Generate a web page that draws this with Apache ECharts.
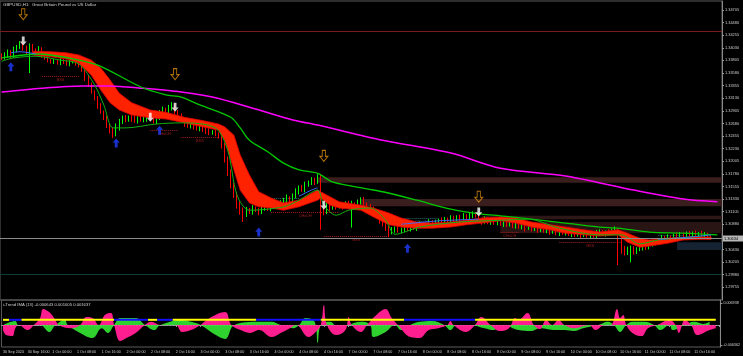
<!DOCTYPE html>
<html><head><meta charset="utf-8">
<script src="https://cdn.jsdelivr.net/npm/echarts@6/dist/echarts.min.js"></script>
<style>html,body{margin:0;padding:0;background:#000;}#c{width:743px;height:356px;}</style>
</head><body><div id="c"></div>
<script>
const timeLabels = ['30 Sep 2024','30 Sep 16:00','1 Oct 00:00','1 Oct 08:00','1 Oct 16:00','2 Oct 00:00','2 Oct 08:00','2 Oct 16:00','3 Oct 00:00','3 Oct 08:00','3 Oct 16:00','4 Oct 00:00','4 Oct 08:00','4 Oct 16:00','7 Oct 00:00','7 Oct 08:00','7 Oct 16:00','8 Oct 00:00','8 Oct 08:00','8 Oct 16:00','9 Oct 00:00','9 Oct 08:00','9 Oct 16:00','10 Oct 00:00','10 Oct 08:00','10 Oct 16:00','11 Oct 00:00','11 Oct 08:00','11 Oct 16:00'];
const barsPerLabel = 8;
const slotCount = 233;
const priceTicks = [1.34705,1.34480,1.34255,1.34030,1.33805,1.33580,1.33355,1.33130,1.32905,1.32680,1.32455,1.32230,1.32005,1.31780,1.31555,1.31330,1.31105,1.30880,1.30430,1.30205,1.29980,1.29755];
const subTicks = [0.006938, -0.006362];

const firstOpen = 1.3390;
const closes = [
1.3385,1.3390,1.3396,1.3388,1.3399,1.3404,1.3410,1.3403,1.3396,1.3406,
1.3399,1.3394,1.3401,1.3390,1.3385,1.3381,1.3378,1.3379,1.3376,1.3381,
1.3378,1.3374,1.3378,1.3379,1.3376,1.3372,1.3363,1.3349,1.3337,1.3324,
1.3313,1.3299,1.3288,1.3278,1.3265,1.3256,1.3249,1.3260,1.3270,1.3278,
1.3274,1.3279,1.3276,1.3272,1.3278,1.3274,1.3276,1.3279,1.3276,1.3272,
1.3278,1.3287,1.3292,1.3288,1.3296,1.3299,1.3288,1.3281,1.3274,1.3267,
1.3263,1.3267,1.3262,1.3258,1.3260,1.3256,1.3254,1.3251,1.3253,1.3249,
1.3245,1.3229,1.3203,1.3181,1.3158,1.3140,1.3122,1.3113,1.3106,1.3113,
1.3110,1.3117,1.3113,1.3110,1.3117,1.3119,1.3115,1.3120,1.3122,1.3119,
1.3126,1.3131,1.3135,1.3131,1.3138,1.3146,1.3153,1.3149,1.3158,1.3162,
1.3167,1.3163,1.3171,1.3113,1.3110,1.3122,1.3117,1.3124,1.3120,1.3122,
1.3119,1.3126,1.3122,1.3124,1.3120,1.3128,1.3131,1.3124,1.3120,1.3117,
1.3110,1.3103,1.3095,1.3088,1.3081,1.3074,1.3078,1.3081,1.3076,1.3079,
1.3083,1.3079,1.3085,1.3081,1.3085,1.3087,1.3088,1.3085,1.3092,1.3088,
1.3092,1.3095,1.3092,1.3097,1.3094,1.3099,1.3095,1.3101,1.3097,1.3103,
1.3099,1.3104,1.3106,1.3103,1.3095,1.3092,1.3097,1.3092,1.3095,1.3090,
1.3094,1.3088,1.3092,1.3087,1.3090,1.3085,1.3088,1.3083,1.3087,1.3081,
1.3085,1.3079,1.3083,1.3078,1.3081,1.3076,1.3079,1.3074,1.3078,1.3072,
1.3076,1.3072,1.3074,1.3070,1.3074,1.3069,1.3072,1.3069,1.3072,1.3067,
1.3070,1.3067,1.3072,1.3074,1.3070,1.3074,1.3072,1.3076,1.3078,1.3063,
1.3045,1.3038,1.3042,1.3045,1.3040,1.3044,1.3047,1.3051,1.3047,1.3053,
1.3056,1.3054,1.3060,1.3063,1.3060,1.3065,1.3061,1.3067,1.3063,1.3069,
1.3065,1.3070,1.3067,1.3072,1.3069,1.3070,1.3067,1.3069,1.3065,1.30634];
const upWickPips = [
3,5,4,3,6,4,5,3,4,5, 4,3,5,3,4,3,2,4,3,5, 3,4,3,4,3,2,4,3,5,4, 3,4,5,3,4,3,5,8,6,4,
5,3,4,6,3,4,5,3,4,3, 4,5,6,4,5,7,3,4,5,3, 4,3,5,3,4,3,4,5,3,4, 3,5,4,6,5,4,6,7,5,6,
4,5,3,4,6,3,4,5,3,4, 5,4,6,3,5,6,4,5,6,4, 5,4,6,5,8,6,4,5,3,4, 5,3,4,6,3,4,5,6,3,4,
3,4,3,4,3,4,5,3,4,3, 4,3,5,3,4,6,3,4,5,3, 4,3,5,4,3,5,4,3,4,5, 3,4,5,3,4,3,5,4,3,4,
3,4,3,5,4,3,4,3,5,3, 4,3,5,3,4,3,4,5,3,4, 3,4,3,5,3,4,3,4,3,5, 3,4,6,5,4,3,5,4,6,3,
5,4,6,5,4,3,5,4,6,5, 4,5,3,6,4,5,3,4,6,5, 4,5,6,3,5,4,6,5,4,3];
const dnWickPips = [
4,3,5,4,3,4,3,5,4,38, 3,4,3,5,3,4,3,4,3,4, 4,3,4,3,5,4,3,5,4,3, 4,5,3,4,5,6,7,4,5,3,
4,3,5,3,4,3,4,5,3,4, 5,4,3,4,3,5,4,3,4,5, 3,4,5,3,4,3,5,4,3,4, 4,6,5,7,6,5,6,8,14,5,
4,5,3,6,4,5,3,4,5,3, 4,3,5,4,3,4,5,3,4,3, 4,5,3,35,6,4,5,3,6,4, 5,3,4,40,3,4,5,3,4,5,
4,5,6,4,5,9,4,5,3,4, 5,3,4,3,5,4,3,5,4,3, 4,5,3,4,3,4,5,3,4,3, 4,3,5,3,4,5,3,4,5,3,
4,3,5,4,3,4,5,3,4,6, 3,4,3,5,4,3,4,5,3,4, 5,3,4,3,5,4,3,6,4,3, 4,3,5,4,3,4,5,3,4,48,
10,6,5,22,6,5,4,6,5,4, 5,4,3,5,4,3,5,4,3,4, 5,3,4,5,3,4,5,3,4,3];

const magentaIdx = [0,13,26,35,45,58,68,80,94,102,123,145,161,182,204,220,231];
const magentaVal = [1.3324,1.3331,1.3335,1.3335,1.3331,1.3324,1.3315,1.3297,1.3274,1.3265,1.3238,1.3215,1.3188,1.3174,1.3149,1.3133,1.3128];
const greenIdx = [0,12,25,32,45,53,58,64,74,77,80,86,91,96,102,107,118,123,134,145,155,161,171,182,193,199,209,220,231];
const greenVal = [1.3385,1.3392,1.3381,1.3370,1.3333,1.3319,1.3315,1.3301,1.3279,1.3260,1.3238,1.3217,1.3197,1.3185,1.3179,1.3163,1.3151,1.3146,1.3131,1.3115,1.3106,1.3103,1.3097,1.3090,1.3083,1.3081,1.3074,1.3072,1.3069];
const signalIdx = [0,4,11,19,25,30,33,36,40,50,58,69,73,76,80,91,96,102,104,108,112,119,124,127,135,148,161,170,180,193,200,206,212,222,229];
const signalVal = [1.3379,1.3385,1.3388,1.3381,1.3374,1.3337,1.3301,1.3260,1.3260,1.3267,1.3269,1.3260,1.3220,1.3140,1.3113,1.3119,1.3131,1.3149,1.3122,1.3104,1.3113,1.3117,1.3095,1.3070,1.3083,1.3092,1.3095,1.3097,1.3081,1.3069,1.3069,1.3053,1.3060,1.3065,1.3069];
const blueIdx = [[3,6,11],[96,100,102],[129,141,154],[212,222,229]];
const blueVal = [[1.3394,1.3396,1.3392],[1.3138,1.3149,1.3153],[1.3088,1.3094,1.3097],[1.3061,1.3065,1.3069]];
const ribIdx = [10,16,21,25,29,32,35,38,42,48,53,59,64,70,72,75,77,80,83,87,91,96,102,103,106,109,116,120,125,129,134,139,145,150,155,161,166,171,177,182,188,193,199,202,206,209,215,220,225,229];
const ribHi = [1.3397,1.3396,1.3394,1.3390,1.3381,1.3367,1.3346,1.3322,1.3305,1.3292,1.3288,1.3279,1.3274,1.3267,1.3262,1.3247,1.3212,1.3176,1.3146,1.3135,1.3126,1.3131,1.3149,1.3146,1.3137,1.3128,1.3122,1.3117,1.3108,1.3099,1.3092,1.3090,1.3092,1.3095,1.3099,1.3101,1.3099,1.3092,1.3087,1.3083,1.3078,1.3074,1.3078,1.3072,1.3063,1.3060,1.3063,1.3065,1.3065,1.3065];
const ribLo = [1.3390,1.3387,1.3383,1.3376,1.3354,1.3328,1.3305,1.3292,1.3283,1.3278,1.3276,1.3269,1.3263,1.3256,1.3238,1.3185,1.3149,1.3126,1.3119,1.3117,1.3113,1.3119,1.3131,1.3135,1.3122,1.3117,1.3113,1.3101,1.3087,1.3083,1.3081,1.3081,1.3083,1.3087,1.3090,1.3094,1.3090,1.3083,1.3078,1.3072,1.3069,1.3067,1.3069,1.3056,1.3047,1.3049,1.3054,1.3060,1.3061,1.3061];

const whiteDownIdx = [7,48,56,104,154];
const whiteDownVal = [1.3415,1.3279,1.3297,1.3122,1.3110];
const orangeDownIdx = [7,56,104,154];
const orangeDownVal = [1.3463,1.3356,1.3210,1.3137];
const blueUpIdx = [3,37,51,83,131];
const blueUpVal = [1.3369,1.3233,1.3256,1.3074,1.3045];

const hLinePrice = [1.3433, 1.2999];
const hLineColor = ['#7a1c1c', '#0f3c37'];
const zoneFrom = [102,116,155,161,218];
const zoneTop = [1.3172,1.3133,1.3103,1.3092,1.3056];
const zoneBot = [1.3162,1.3120,1.3097,1.3072,1.3042];
const zoneColor = ['#3a1e1e','#3a1e1e','#2e1717','#2a1515','#152232'];
const lvFrom = [13,48,58,87,104,161,180];
const lvTo = [25,57,70,109,125,167,200];
const lvPrice = [1.3353,1.3256,1.3244,1.3110,1.3067,1.3074,1.3056];
const lvText = ['BSS','CHoCH','BSS','CHoCH','BSS','CHoCH','BSS'];
const tealFrom = [84,130,212];
const tealTo = [96,141,220];
const tealPrice = [1.3135,1.3099,1.3069];
const tealText = ['CHoCH','CHoCH','CHoCH'];

const pinkIdx = [0,1,3,4,5,8,10,12,13,15,17,18,22,25,27,29,31,33,35,36,38,40,43,46,48,51,56,58,61,64,67,72,74,77,80,83,87,90,93,95,99,101,103,104,105,108,111,112,113,116,118,121,124,126,128,132,135,138,141,144,145,146,150,153,155,158,161,164,166,167,170,172,174,176,178,180,182,185,190,192,195,197,199,200,201,202,204,207,209,212,216,218,219,221,223,225,229,231];
const pinkVal = [-0.0016,-0.0032,-0.0035,-0.001,0,-0.0016,0,0.0022,0.0051,0.0041,0.0016,0,-0.001,0,0.0025,0.0022,0,0.0032,0.0038,0,-0.0051,-0.0041,-0.0025,0,0.001,0,0,-0.0022,-0.0016,0,0.0022,0.0041,0,-0.0016,-0.0025,-0.0016,-0.0038,-0.0025,-0.001,0,-0.0038,-0.0025,0,0.0063,0,-0.0032,-0.0016,0.0025,0,-0.0022,0,0.0032,0.0051,0.0022,0,-0.0038,-0.0041,-0.0016,-0.001,0,0.0013,0,-0.0022,0,0.0025,0,-0.0019,-0.001,0.0022,0.0016,0.0038,0,-0.0013,0.0016,0,0.0016,0,-0.001,0,-0.0016,0,0,0.0051,0.0022,0.0032,0,-0.0025,-0.0035,-0.001,0,0.0016,0,-0.0025,0.0016,0,-0.0032,-0.0016,-0.001];
const grnIdx = [0,4,5,12,15,17,20,21,25,29,32,34,36,38,43,46,49,51,58,61,64,69,72,75,83,87,90,94,96,98,101,102,103,106,109,112,116,119,120,124,127,129,132,135,139,143,145,147,151,156,159,162,167,171,174,179,182,185,188,193,196,198,200,202,204,208,211,213,216,217,221,224,227,229];
const grnVal = [0,0.0013,0,0,-0.0022,0,0.0016,0,-0.0025,-0.0041,-0.001,-0.0025,0,0.0022,0.0022,0,-0.0016,0,0.0016,0.001,0,-0.0032,-0.0044,0,0.001,0.001,0,-0.001,0,0.0022,0.001,-0.0057,0,0.001,-0.0016,0,0.001,0,-0.0038,-0.0022,0,-0.0016,0,0.001,0.0013,0,-0.0016,0,0,-0.001,-0.0016,0,-0.0016,-0.0019,-0.001,-0.0016,-0.0016,-0.0019,-0.001,0,0.001,0,-0.0022,0,0.001,0.001,0,-0.0016,0,-0.0016,0,0.001,0.0003,0.001];
const trendLevel = 0.001637;
const stateFrom = [0,2,6,36,47,50,55,82,103,130,153];
const stateTo = [2,6,36,47,50,55,82,103,130,153,231];
const stateUp = [1,0,1,0,1,0,1,0,1,0,1];

const cats = Array.from({length: slotCount}, (_, i) => String(i));
const candleData = closes.map((c, i) => {
  const o = i === 0 ? firstOpen : closes[i - 1];
  return [o, c, Math.min(o, c) - dnWickPips[i] * 1e-4, Math.max(o, c) + upWickPips[i] * 1e-4];
});
const pairs = (ix, vs) => ix.map((x, k) => [x, vs[k]]);
const lastClose = closes[closes.length - 1];
const FONT = 'Liberation Sans';
const AX = '#d0d0d0';

const lineS = (ix, vs, color, width, z) => ({type:'line', xAxisIndex:0, yAxisIndex:0, data: pairs(ix, vs), showSymbol:false, symbol:'none', silent:true, z:z, lineStyle:{color:color, width:width}, smooth:0.3});

const series = [];
series.push({type:'custom', xAxisIndex:0, yAxisIndex:0, z:1, silent:true,
  data: zoneFrom.map((f, k) => [f, zoneTop[k], zoneBot[k], k]), encode:{x:0, y:[1,2]},
  renderItem: (params, api) => {
    const k = api.value(3);
    const p1 = api.coord([api.value(0), api.value(1)]);
    const p2 = api.coord([api.value(0), api.value(2)]);
    const cs = params.coordSys;
    return {type:'rect', shape:{x:p1[0], y:p1[1], width:cs.x + cs.width - p1[0], height:p2[1] - p1[1]}, style:{fill: zoneColor[k]}};
  }});
// full-width horizontal lines
series.push({type:'custom', xAxisIndex:0, yAxisIndex:0, z:2, silent:true,
  data: hLinePrice.map((p, k) => [0, p, k]), encode:{x:0, y:1},
  renderItem: (params, api) => {
    const y = Math.round(api.coord([0, api.value(1)])[1]) + 0.5;
    const cs = params.coordSys;
    return {type:'line', shape:{x1:cs.x, y1:y, x2:cs.x + cs.width, y2:y}, style:{stroke:hLineColor[api.value(2)], lineWidth:1}};
  }});
const levelSeries = (from, to, price, text, color) => ({type:'custom', xAxisIndex:0, yAxisIndex:0, z:2, silent:true,
  data: from.map((f, k) => [f, price[k], to[k], k]), encode:{x:0, y:1},
  renderItem: (params, api) => {
    const k = api.value(3);
    const a = api.coord([api.value(0), api.value(1)]);
    const b = api.coord([api.value(2), api.value(1)]);
    const y = Math.round(a[1]) + 0.5;
    return {type:'group', children:[
      {type:'line', shape:{x1:a[0], y1:y, x2:b[0], y2:y}, style:{stroke:color, lineWidth:1, lineDash:[1,1]}},
      {type:'text', x:(a[0]+b[0])/2, y:y+1, style:{text:text[k], fill:color, fontSize:3.8, fontFamily:FONT, align:'center', verticalAlign:'top'}}
    ]};
  }});
series.push(levelSeries(lvFrom, lvTo, lvPrice, lvText, '#a01c1c'));
series.push(levelSeries(tealFrom, tealTo, tealPrice, tealText, '#1f6f6a'));
series.push({type:'candlestick', xAxisIndex:0, yAxisIndex:0, data:candleData, barWidth:1.2, z:3, silent:true,
  itemStyle:{color:'#00ff00', color0:'#ff0000', borderColor:'#00ff00', borderColor0:'#ff0000', borderWidth:1}});
// bid line + price box
series.push({type:'custom', xAxisIndex:0, yAxisIndex:0, z:8, silent:true, clip:false,
  data:[[closes.length - 1, lastClose]], encode:{x:0, y:1},
  renderItem: (params, api) => {
    const y = Math.round(api.coord([0, api.value(1)])[1]) + 0.5;
    const cs = params.coordSys;
    const xr = cs.x + cs.width;
    return {type:'group', children:[
      {type:'line', shape:{x1:cs.x, y1:y, x2:xr, y2:y}, style:{stroke:'#8c8c8c', lineWidth:1}, z2:1},
      {type:'rect', shape:{x:xr + 1, y:y - 3, width:20, height:6}, style:{fill:'#b8b8b8'}},
      {type:'text', x:xr + 2, y:y, style:{text:api.value(1).toFixed(5), fill:'#000', fontSize:3.9, fontFamily:FONT, verticalAlign:'middle'}}
    ]};
  }});
series.push({type:'custom', xAxisIndex:0, yAxisIndex:0, z:4, silent:true, data:[[ribIdx[0], ribHi[0]]],
  renderItem: (params, api) => {
    const top = ribIdx.map((x, k) => api.coord([x, ribHi[k]]));
    const bot = ribIdx.map((x, k) => api.coord([x, ribLo[k]])).reverse();
    return {type:'polygon', shape:{points: top.concat(bot)}, style:{fill:'#ff2200', stroke:'#e00000', lineWidth:0.8}};
  }});
series.push(lineS(magentaIdx, magentaVal, '#ff00ff', 1.5, 5));
series.push(lineS(greenIdx, greenVal, '#00c800', 1.3, 5));
series.push(lineS(signalIdx, signalVal, '#10b010', 1, 5));
blueIdx.forEach((ix, k) => series.push(lineS(ix, blueVal[k], '#3a6bff', 1, 6)));
const downPath = 'path://M3,0L7,0L7,6L10,6L5,11L0,6L3,6Z';
const upPath = 'path://M5,0L10,5L7,5L7,11L3,11L3,5L0,5Z';
series.push({type:'scatter', xAxisIndex:0, yAxisIndex:0, z:7, silent:true, data:pairs(whiteDownIdx, whiteDownVal), symbol:downPath, symbolSize:[7,9], itemStyle:{color:'#ffffff'}});
series.push({type:'scatter', xAxisIndex:0, yAxisIndex:0, z:7, silent:true, data:pairs(orangeDownIdx, orangeDownVal), symbol:downPath, symbolSize:[8,11], itemStyle:{color:'rgba(0,0,0,0)', borderColor:'#e0900a', borderWidth:1}});
series.push({type:'scatter', xAxisIndex:0, yAxisIndex:0, z:7, silent:true, data:pairs(blueUpIdx, blueUpVal), symbol:upPath, symbolSize:[7,9], itemStyle:{color:'#1f3dff'}});
// sub window
series.push({type:'line', xAxisIndex:1, yAxisIndex:1, data:pairs(grnIdx, grnVal), showSymbol:false, symbol:'none', smooth:0.4, silent:true, z:2, lineStyle:{width:0}, areaStyle:{color:'#2fd12f', opacity:1}});
series.push({type:'line', xAxisIndex:1, yAxisIndex:1, data:pairs(pinkIdx, pinkVal), showSymbol:false, symbol:'none', smooth:0.4, silent:true, z:3, lineStyle:{width:0}, areaStyle:{color:'#ff1e8f', opacity:1}});
series.push({type:'custom', xAxisIndex:1, yAxisIndex:1, z:3, silent:true, data:[[0, 0]], encode:{x:0, y:1},
  renderItem: (params, api) => {
    const y = Math.round(api.coord([0, 0])[1]) + 0.5;
    const cs = params.coordSys;
    return {type:'line', shape:{x1:cs.x, y1:y, x2:cs.x + cs.width, y2:y}, style:{stroke:'rgba(220,220,220,0.45)', lineWidth:1, lineDash:[1,2]}};
  }});
stateFrom.forEach((f, k) => series.push({type:'line', xAxisIndex:1, yAxisIndex:1, data:[[f, trendLevel],[stateTo[k], trendLevel]], showSymbol:false, symbol:'none', silent:true, z:4, lineStyle:{color: stateUp[k] ? '#ffff00' : '#1010ff', width:2}}));

const chart = echarts.init(document.getElementById('c'), null, {renderer:'canvas'});
chart.setOption({
  backgroundColor:'#000', animation:false,
  grid:[
    {left:0, top:1, width:722, height:299, show:true, borderColor:'#5c5c5c', borderWidth:1},
    {left:0, top:300, width:722, height:47, show:true, borderColor:'#5c5c5c', borderWidth:1}
  ],
  xAxis:[
    {type:'category', gridIndex:0, data:cats, boundaryGap:true, axisLine:{show:false}, axisTick:{show:false}, axisLabel:{show:false}, splitLine:{show:false}},
    {type:'category', gridIndex:1, data:cats, boundaryGap:true, axisLine:{show:true, lineStyle:{color:'#8a8a8a'}},
     axisTick:{show:true, alignWithLabel:true, length:2, interval:(i) => i % barsPerLabel === 0, lineStyle:{color:'#9a9a9a'}},
     axisLabel:{interval:(i) => i % barsPerLabel === 0, formatter:(v, i) => timeLabels[i / barsPerLabel] || '', color:AX, fontSize:3.7, fontFamily:FONT, align:'left', margin:3},
     splitLine:{show:false}}
  ],
  yAxis:[
    {type:'value', gridIndex:0, position:'right', min:1.29527, max:1.34866, scale:true,
     axisLine:{show:true, lineStyle:{color:'#8a8a8a'}}, axisTick:{show:true, customValues:priceTicks, length:2, lineStyle:{color:'#9a9a9a'}},
     axisLabel:{customValues:priceTicks, formatter:v => v.toFixed(5), color:AX, fontSize:3.9, fontFamily:FONT, margin:3},
     splitLine:{show:false}},
    {type:'value', gridIndex:1, position:'right', min:-0.006967, max:0.0079175,
     axisLine:{show:true, lineStyle:{color:'#8a8a8a'}}, axisTick:{show:true, customValues:subTicks, length:2, lineStyle:{color:'#9a9a9a'}},
     axisLabel:{customValues:subTicks, formatter:v => v.toFixed(6), color:AX, fontSize:3.7, fontFamily:FONT, margin:3},
     splitLine:{show:false}}
  ],
  graphic:[
    {type:'text', left:3, top:3, z:10, style:{text:'GBPUSD,H1:  Great Britain Pound vs US Dollar', fill:AX, fontSize:4.4, fontFamily:FONT}},
    {type:'text', left:3, top:303, z:10, style:{text:'i-Trend IMA (13) -0.000643 0.001005 0.001637', fill:AX, fontSize:4.2, fontFamily:FONT}}
  ],
  series: series
});
</script></body></html>
